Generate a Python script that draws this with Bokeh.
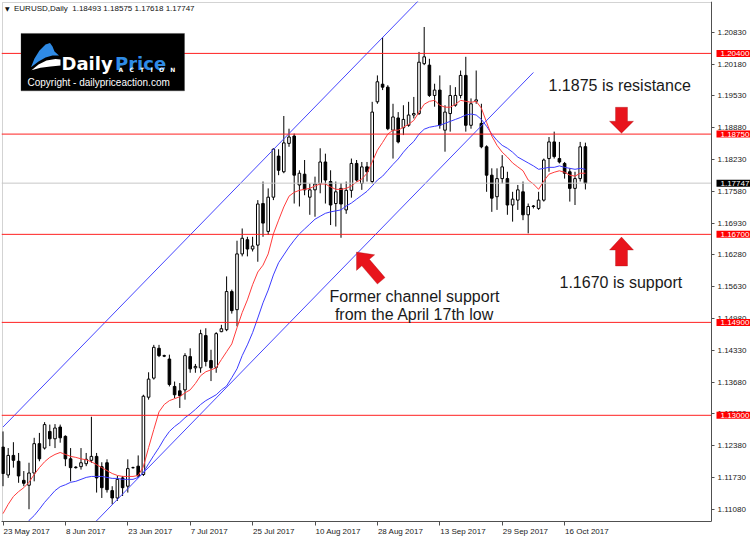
from bokeh.plotting import figure
from bokeh.models import (Range1d, FixedTicker, Label, BoxAnnotation, PolyAnnotation,
                          ColumnDataSource, PrintfTickFormatter, LinearAxis,
                          CustomJSTickFormatter, CustomLabelingPolicy)
from bokeh.embed import file_html
from bokeh.resources import INLINE

# ---------------- data ----------------
symbol_title = "EURUSD,Daily"
last_ohlc = [1.18493, 1.18575, 1.17618, 1.17747]

opens = [1.1235, 1.1178, 1.1218, 1.1206, 1.1167, 1.1157, 1.1182, 1.1242, 1.1233, 1.1267,
         1.1252, 1.1276, 1.1257, 1.1211, 1.1194, 1.1195, 1.1201, 1.1208, 1.1216, 1.1195,
         1.1203, 1.1146, 1.1131, 1.1172, 1.1155, 1.1193, 1.1196, 1.1179, 1.1337, 1.1376,
         1.1437, 1.1422, 1.1415, 1.1359, 1.1350, 1.1352, 1.1420, 1.1397, 1.1397, 1.1463,
         1.1412, 1.1398, 1.1471, 1.1475, 1.1553, 1.1516, 1.1630, 1.1659, 1.1640, 1.1648,
         1.1733, 1.1676, 1.1746, 1.1830, 1.1798, 1.1856, 1.1871, 1.1771, 1.1793, 1.1746,
         1.1761, 1.1774, 1.1818, 1.1778, 1.1733, 1.1764, 1.1720, 1.1760, 1.1815, 1.1774,
         1.1808, 1.1778, 1.1941, 1.1977, 1.1971, 1.1883, 1.1908, 1.1888, 1.1893, 1.1914,
         1.1917, 1.2019, 1.2016, 1.1954, 1.1965, 1.1883, 1.1917, 1.1934, 1.1954, 1.1995,
         1.1893, 1.1942, 1.1897, 1.1849, 1.1791, 1.1747, 1.1784, 1.1784, 1.1730, 1.1740,
         1.1757, 1.1710, 1.1728, 1.1723, 1.1740, 1.1825, 1.1859, 1.1825, 1.1815, 1.1798,
         1.1764, 1.1784, 1.18493]
highs = [1.1267, 1.1233, 1.1245, 1.1223, 1.1186, 1.1203, 1.1254, 1.1264, 1.1286, 1.1281,
         1.1282, 1.1281, 1.1259, 1.1233, 1.1196, 1.1233, 1.1223, 1.1297, 1.1223, 1.1204,
         1.1210, 1.1155, 1.1176, 1.1176, 1.1210, 1.1195, 1.1218, 1.1342, 1.1388, 1.1444,
         1.1444, 1.1424, 1.1424, 1.1369, 1.1366, 1.1427, 1.1437, 1.1405, 1.1475, 1.1478,
         1.1434, 1.1470, 1.1485, 1.1584, 1.1557, 1.1657, 1.1682, 1.1665, 1.1665, 1.1740,
         1.1778, 1.1764, 1.1846, 1.1844, 1.1912, 1.1886, 1.1876, 1.1801, 1.1822, 1.1774,
         1.1788, 1.1846, 1.1835, 1.1801, 1.1778, 1.1775, 1.1778, 1.1825, 1.1822, 1.1818,
         1.1818, 1.1941, 1.1995, 1.2073, 1.1975, 1.1937, 1.1920, 1.1934, 1.1941, 1.1951,
         1.2043, 1.2094, 1.2029, 1.1978, 1.1995, 1.1934, 1.1975, 1.1971, 1.2005, 1.2033,
         1.1948, 1.2005, 1.1937, 1.1852, 1.1805, 1.1805, 1.1832, 1.1798, 1.1757, 1.1771,
         1.1778, 1.1733, 1.1730, 1.1757, 1.1825, 1.1869, 1.1880, 1.1859, 1.1818, 1.1805,
         1.1798, 1.1859, 1.18575]
lows = [1.1155, 1.1172, 1.1193, 1.1162, 1.1155, 1.1108, 1.1165, 1.1206, 1.1230, 1.1237,
        1.1233, 1.1244, 1.1196, 1.1165, 1.1191, 1.1189, 1.1196, 1.1203, 1.1142, 1.1131,
        1.1142, 1.1118, 1.1125, 1.1135, 1.1142, 1.1191, 1.1172, 1.1176, 1.1332, 1.1373,
        1.1419, 1.1419, 1.1359, 1.1335, 1.1315, 1.1332, 1.1387, 1.1387, 1.1387, 1.1400,
        1.1370, 1.1387, 1.1470, 1.1472, 1.1508, 1.1482, 1.1625, 1.1625, 1.1635, 1.1614,
        1.1665, 1.1669, 1.1740, 1.1791, 1.1795, 1.1849, 1.1733, 1.1727, 1.1750, 1.1710,
        1.1706, 1.1754, 1.1733, 1.1689, 1.1686, 1.1663, 1.1712, 1.1745, 1.1778, 1.1761,
        1.1778, 1.1774, 1.1937, 1.1965, 1.1883, 1.1825, 1.1856, 1.1873, 1.1890, 1.1907,
        1.1914, 1.2016, 1.1951, 1.1931, 1.1886, 1.1839, 1.1880, 1.1931, 1.1948, 1.1880,
        1.1886, 1.1937, 1.1846, 1.1757, 1.1716, 1.1720, 1.1774, 1.1710, 1.1696, 1.1720,
        1.1699, 1.1672, 1.1723, 1.1720, 1.1737, 1.1798, 1.1825, 1.1815, 1.1784, 1.1737,
        1.1730, 1.1778, 1.17618]
closes = [1.1181, 1.1218, 1.1208, 1.1176, 1.1161, 1.1182, 1.1242, 1.1211, 1.1281, 1.1252,
          1.1274, 1.1254, 1.1211, 1.1193, 1.1193, 1.1203, 1.1210, 1.1216, 1.1172, 1.1152,
          1.1148, 1.1131, 1.1169, 1.1152, 1.1191, 1.1193, 1.1176, 1.1339, 1.1374, 1.1439,
          1.1422, 1.1421, 1.1363, 1.1342, 1.1340, 1.1422, 1.1395, 1.1400, 1.1467, 1.1410,
          1.1397, 1.1467, 1.1477, 1.1553, 1.1514, 1.1630, 1.1662, 1.1640, 1.1646, 1.1732,
          1.1693, 1.1746, 1.1844, 1.1801, 1.1857, 1.1869, 1.1791, 1.1795, 1.1761, 1.1761,
          1.1773, 1.1818, 1.1781, 1.1730, 1.1757, 1.1732, 1.1760, 1.1815, 1.1781, 1.1808,
          1.1798, 1.1920, 1.1982, 1.1971, 1.1886, 1.1910, 1.1859, 1.1905, 1.1914, 1.1917,
          1.2022, 1.2033, 1.1954, 1.1965, 1.1893, 1.1920, 1.1954, 1.1954, 1.1995, 1.1893,
          1.1937, 1.1945, 1.1849, 1.1791, 1.1744, 1.1784, 1.1808, 1.1730, 1.1742, 1.1761,
          1.1710, 1.1727, 1.1727, 1.1740, 1.1822, 1.1859, 1.1829, 1.1818, 1.1795, 1.1764,
          1.1784, 1.1849, 1.17747]

ma_fast = [1.1099, 1.1118, 1.1134, 1.1144, 1.1152, 1.1163, 1.1179, 1.1193, 1.1205, 1.1214,
           1.1220, 1.1224, 1.1220, 1.1216, 1.1214, 1.1211, 1.1209, 1.1205, 1.1199, 1.1193,
           1.1187, 1.1181, 1.1177, 1.1175, 1.1175, 1.1175, 1.1177, 1.1195, 1.1234, 1.1271,
           1.1307, 1.1322, 1.1330, 1.1334, 1.1338, 1.1346, 1.1352, 1.1365, 1.1381, 1.1389,
           1.1393, 1.1397, 1.1414, 1.1430, 1.1446, 1.1479, 1.1510, 1.1536, 1.1567, 1.1593,
           1.1607, 1.1630, 1.1671, 1.1699, 1.1726, 1.1748, 1.1756, 1.1760, 1.1762, 1.1764,
           1.1769, 1.1773, 1.1773, 1.1767, 1.1762, 1.1762, 1.1764, 1.1769, 1.1777, 1.1783,
           1.1795, 1.1818, 1.1842, 1.1858, 1.1875, 1.1883, 1.1883, 1.1889, 1.1895, 1.1903,
           1.1920, 1.1936, 1.1942, 1.1944, 1.1934, 1.1930, 1.1930, 1.1936, 1.1944, 1.1942,
           1.1940, 1.1942, 1.1928, 1.1899, 1.1871, 1.1852, 1.1838, 1.1828, 1.1816, 1.1808,
           1.1800, 1.1781, 1.1773, 1.1762, 1.1779, 1.1793, 1.1797, 1.1800, 1.1797, 1.1791,
           1.1789, 1.1795, 1.1795]
ma_slow = [1.1028, 1.1040, 1.1053, 1.1063, 1.1073, 1.1085, 1.1095, 1.1108, 1.1122, 1.1134,
           1.1146, 1.1154, 1.1158, 1.1163, 1.1165, 1.1169, 1.1173, 1.1175, 1.1175, 1.1175,
           1.1173, 1.1171, 1.1171, 1.1169, 1.1169, 1.1169, 1.1173, 1.1183, 1.1201, 1.1218,
           1.1234, 1.1252, 1.1267, 1.1277, 1.1285, 1.1295, 1.1303, 1.1312, 1.1322, 1.1330,
           1.1336, 1.1342, 1.1352, 1.1360, 1.1377, 1.1395, 1.1422, 1.1444, 1.1469, 1.1499,
           1.1530, 1.1556, 1.1587, 1.1612, 1.1628, 1.1644, 1.1658, 1.1671, 1.1681, 1.1691,
           1.1701, 1.1707, 1.1713, 1.1716, 1.1718, 1.1720, 1.1728, 1.1734, 1.1742, 1.1750,
           1.1758, 1.1769, 1.1781, 1.1789, 1.1801, 1.1813, 1.1824, 1.1838, 1.1850, 1.1860,
           1.1875, 1.1885, 1.1889, 1.1891, 1.1893, 1.1897, 1.1901, 1.1905, 1.1909, 1.1914,
           1.1916, 1.1914, 1.1905, 1.1891, 1.1875, 1.1862, 1.1852, 1.1846, 1.1838, 1.1828,
           1.1822, 1.1816, 1.1810, 1.1803, 1.1805, 1.1807, 1.1807, 1.1810, 1.1807, 1.1805,
           1.1803, 1.1805, 1.1803]

date_tick_bars = [0, 12, 24, 36, 48, 60, 72, 84, 96, 108]
date_tick_labels = ["23 May 2017", "8 Jun 2017", "23 Jun 2017", "7 Jul 2017", "25 Jul 2017",
                    "10 Aug 2017", "28 Aug 2017", "13 Sep 2017", "29 Sep 2017", "16 Oct 2017"]
price_ticks = [1.11080, 1.11730, 1.12380, 1.13030, 1.13680, 1.14330, 1.14980, 1.15630,
               1.16280, 1.16930, 1.17580, 1.18230, 1.18880, 1.19530, 1.20180, 1.20830]
level_prices = [1.2040, 1.1875, 1.1670, 1.1490, 1.1300]
last_close = 1.17747
channel_bars = [0, 102]
channel_lower = [1.0888, 1.2001]
channel_upper = [1.1276, 1.2389]

# ---------------- layout ----------------
W, H = 750, 538
FRAME_L, FRAME_T, PAD_B = 1, 1, 16
AXIS_PX = 711          # pixel column of the price axis line
BOX_L, BOX_T = 2, 2    # chart window border
BAR_X0_PX, BAR_STEP_PX = 2.5, 5.2
PX_PER_PRICE, REF_PRICE, REF_PX = 4900.0, 1.2040, 53.0


def sx(px):
    return (px - BAR_X0_PX) / BAR_STEP_PX


def sy(py):
    return REF_PRICE - (py - REF_PX) / PX_PER_PRICE


X0, X1 = sx(FRAME_L), sx(W)
Y0, Y1 = sy(H - PAD_B), sy(FRAME_T)
X_AXIS = sx(AXIS_PX)

FONT = "Liberation Sans"

p = figure(width=W, height=H, x_range=Range1d(X0, X1), y_range=Range1d(Y0, Y1),
           y_axis_location="right", output_backend="svg", toolbar_location=None,
           title=None, min_border_left=FRAME_L, min_border_top=FRAME_T,
           min_border_right=0, min_border_bottom=PAD_B,
           background_fill_color="white", border_fill_color="white",
           outline_line_color=None)
p.grid.visible = False

# chart window border (left / top / right / bottom)
p.add_layout(BoxAnnotation(left=sx(BOX_L), right=X_AXIS, top=sy(BOX_T), bottom=Y0,
                           fill_alpha=0, line_color="#6e6e6e", line_width=1, level="underlay"))

bars = list(range(len(closes)))
src = ColumnDataSource(dict(
    bar=bars, high=highs, low=lows,
    top=[max(o, c) for o, c in zip(opens, closes)],
    bottom=[min(o, c) for o, c in zip(opens, closes)],
    fill=["white" if c >= o else "black" for o, c in zip(opens, closes)],
))

p.segment(x0="bar", y0="low", x1="bar", y1="high", source=src,
          line_color="black", line_width=1)
p.vbar(x="bar", width=0.5, top="top", bottom="bottom", source=src,
       fill_color="fill", line_color="black", line_width=1)

p.line(bars, ma_slow, line_color="#3c3cff", line_width=1)
p.line(bars, ma_fast, line_color="#ff3c3c", line_width=1)

p.segment(x0=[channel_bars[0]] * 2, y0=[channel_lower[0], channel_upper[0]],
          x1=[channel_bars[1]] * 2, y1=[channel_lower[1], channel_upper[1]],
          line_color="#4646ff", line_width=1)

# horizontal levels, running up to the price axis
n_lv = len(level_prices)
p.segment(x0=[X0] * n_lv, y0=level_prices, x1=[X_AXIS] * n_lv, y1=level_prices,
          line_color="#ff2020", line_width=1)
p.segment(x0=[X0], y0=[last_close], x1=[X_AXIS], y1=[last_close],
          line_color="#c8c8c8", line_width=1)

# ---- right price axis, pinned at the axis column
ya = p.yaxis[0]
ya.fixed_location = X_AXIS
ya.ticker = FixedTicker(ticks=price_ticks)
ya.formatter = PrintfTickFormatter(format="%.5f")
ya.major_tick_out = 3
ya.major_tick_in = 0
ya.minor_tick_line_color = None
ya.major_label_standoff = 3
ya.major_label_text_font = FONT
ya.major_label_text_font_size = "8px"
ya.major_label_text_color = "#1a1a1a"
ya.axis_line_color = "#505050"
ya.major_tick_line_color = "#505050"

# ---- bottom time axis: tick marks only
xa = p.xaxis[0]
xa.ticker = FixedTicker(ticks=date_tick_bars)
xa.bounds = (X0, X_AXIS)
xa.major_tick_out = 4
xa.major_tick_in = 0
xa.minor_tick_line_color = None
xa.major_label_standoff = 0
xa.major_label_text_font_size = "0px"
xa.major_label_policy = CustomLabelingPolicy(
    code="for (const i of Array.from(indices)) { indices.unset(i) }\nreturn indices")
xa.axis_line_color = "#505050"
xa.major_tick_line_color = "#505050"

# ---- bottom time axis: left-aligned date labels
CHAR_W = {" ": .278, "M": .833, "a": .556, "y": .5, "J": .5, "u": .556, "n": .556,
          "l": .222, "A": .667, "g": .556, "S": .667, "e": .556, "p": .556,
          "O": .778, "c": .5, "t": .278}


def text_px(s, size=8):
    return sum(CHAR_W.get(ch, .556) for ch in s) * size


label_pos = [b + (text_px(s) / 2 + 0.5) / BAR_STEP_PX for b, s in zip(date_tick_bars, date_tick_labels)]
xb = LinearAxis(ticker=FixedTicker(ticks=label_pos),
                formatter=CustomJSTickFormatter(args=dict(labels=date_tick_labels),
                                                code="return labels[index];"),
                axis_line_color=None, major_tick_line_color=None, minor_tick_line_color=None,
                major_tick_out=0, major_tick_in=0, major_label_standoff=1,
                major_label_text_font=FONT, major_label_text_font_size="8px",
                major_label_text_color="#1a1a1a")
p.add_layout(xb, "below")


# ---- price boxes on the axis
def box_label(**kw):
    for pad in (dict(left=4, right=4, top=1, bottom=1), 2):
        try:
            return Label(padding=pad, **kw)
        except Exception:
            pass
    return Label(**kw)


for lvl in level_prices:
    p.add_layout(box_label(x=sx(716), y=lvl, text=f"{lvl:.5f}", text_font=FONT,
                           text_font_size="8px", text_color="white", text_baseline="middle",
                           background_fill_color="#ff0000", background_fill_alpha=1.0))
p.add_layout(box_label(x=sx(716), y=last_close, text=f"{last_close:.5f}", text_font=FONT,
                       text_font_size="8px", text_color="white", text_baseline="middle",
                       background_fill_color="black", background_fill_alpha=1.0))

# ---- header
p.add_layout(Label(x=sx(4.5), y=sy(8.5), text="\u25bc", text_font="DejaVu Sans",
                   text_font_size="6px", text_color="#111", text_baseline="middle"))
p.add_layout(Label(x=sx(13.5), y=sy(8.5),
                   text=symbol_title + "\u00a0\u00a0" + " ".join(f"{v:.5f}" for v in last_ohlc),
                   text_font=FONT, text_font_size="8px", text_color="#111", text_baseline="middle"))

# ---- logo
p.add_layout(BoxAnnotation(left=sx(20.5), right=sx(184), top=sy(33), bottom=sy(90.5),
                           fill_color="black", fill_alpha=1.0, line_color="#303030"))
p.add_layout(PolyAnnotation(
    xs=[sx(v) for v in [30.5, 34, 39, 45, 49.5, 52, 54, 58.5, 52, 45, 38]],
    ys=[sy(v) for v in [67, 58, 50, 44, 42.5, 46, 51, 55, 55, 57, 61]],
    fill_color="#2f8be6", fill_alpha=1.0, line_color=None))
p.add_layout(PolyAnnotation(
    xs=[sx(v) for v in [31, 38, 46, 55, 60, 60, 50, 40]],
    ys=[sy(v) for v in [70, 64, 60, 58.5, 59, 65, 66, 67.5]],
    fill_color="white", fill_alpha=1.0, line_color=None))
p.add_layout(Label(x=sx(61), y=sy(63.5), text="Daily", text_font="DejaVu Sans",
                   text_font_style="bold", text_font_size="18px", text_color="white",
                   text_baseline="alphabetic"))
p.add_layout(Label(x=sx(114.5), y=sy(63.5), text="Price", text_font="DejaVu Sans",
                   text_font_style="bold", text_font_size="18px", text_color="#2f8be6",
                   text_baseline="alphabetic"))
p.add_layout(Label(x=sx(118), y=sy(69.5), text="\u00a0\u00a0\u00a0".join("ACTION"),
                   text_font="DejaVu Sans", text_font_style="bold", text_font_size="6px",
                   text_color="white", text_baseline="middle"))
p.add_layout(Label(x=sx(27), y=sy(82), text="Copyright - dailypriceaction.com",
                   text_font=FONT, text_font_size="10px", text_color="white",
                   text_baseline="middle"))

# ---- commentary
TXT = dict(text_font=FONT, text_font_size="16px", text_color="#1a1a1a", text_baseline="middle")
p.add_layout(Label(x=sx(548), y=sy(85), text="1.1875 is resistance", **TXT))
p.add_layout(Label(x=sx(559), y=sy(283), text="1.1670 is support", **TXT))
p.add_layout(Label(x=sx(414), y=sy(297), text="Former channel support", text_align="center", **TXT))
p.add_layout(Label(x=sx(414), y=sy(315), text="from the April 17th low", text_align="center", **TXT))

ARROW = dict(fill_color="#e8141c", fill_alpha=1.0, line_color="#9a0e12", line_width=1)
down_x = [615, 627, 627, 633, 621, 609, 615]
down_y = [107, 107, 121, 121, 133, 121, 121]
up_x = [621, 633, 627, 627, 615, 615, 609]
up_y = [237, 250, 250, 266, 266, 250, 250]
diag_x = [356, 374.2, 368.9, 384.5, 376.9, 361.3, 356.0]
diag_y = [252, 254.8, 259.35, 277.65, 284.15, 265.85, 270.4]
for ax, ay in [(down_x, down_y), (up_x, up_y), (diag_x, diag_y)]:
    p.add_layout(PolyAnnotation(xs=[sx(v) for v in ax], ys=[sy(v) for v in ay], **ARROW))

open("out.html", "w").write(file_html(p, INLINE))
